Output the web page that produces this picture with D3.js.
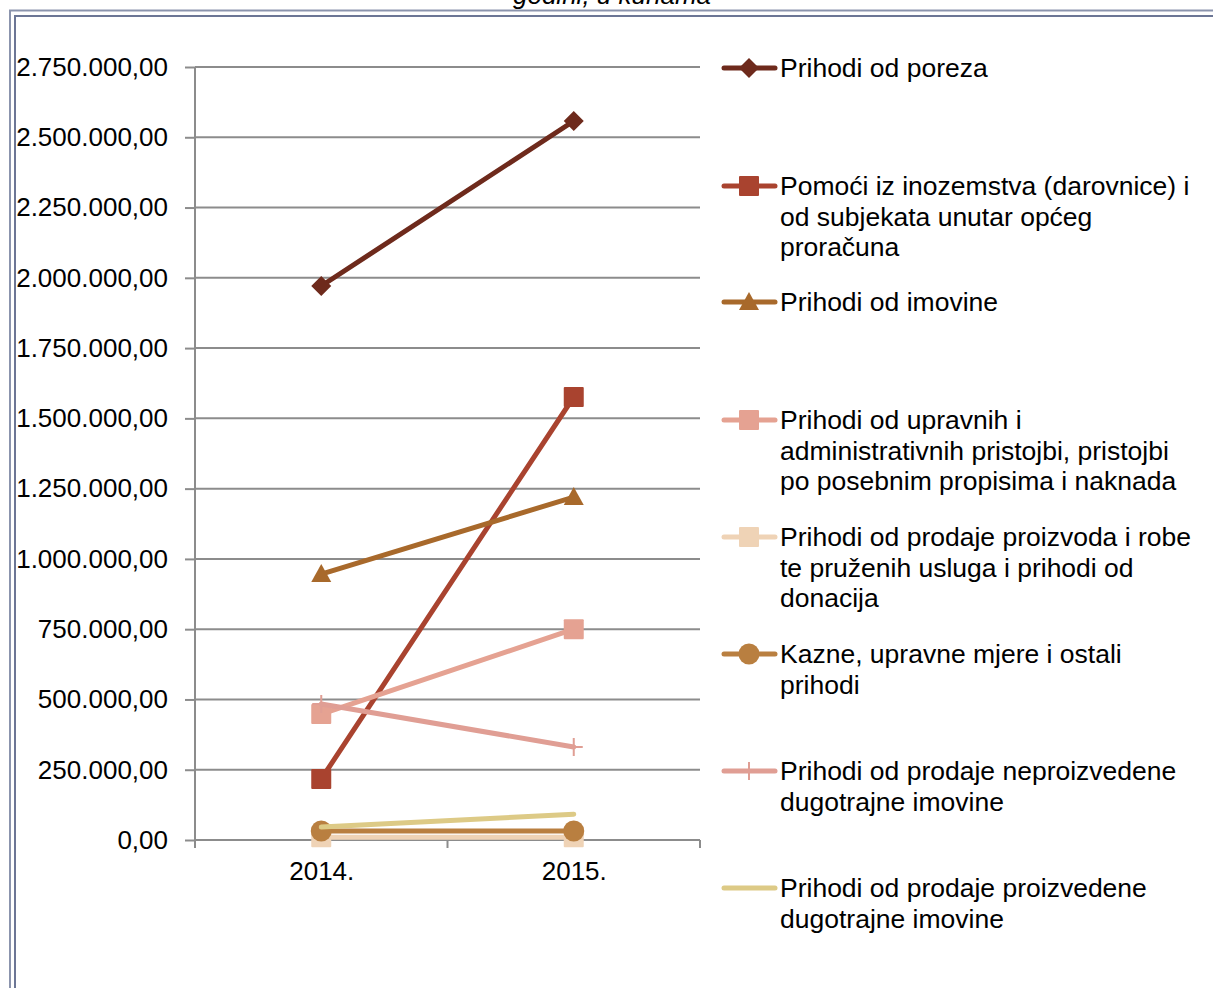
<!DOCTYPE html>
<html>
<head>
<meta charset="utf-8">
<script src="https://cdn.jsdelivr.net/npm/d3@7"></script>
<style>
  body { margin: 0; background: #fff; overflow: hidden; }
  svg { display: block; font-family: "Liberation Sans", Arial, sans-serif; }
</style>
</head>
<body>
<div id="chart"></div>
<script>
// data
const years = ["2014.", "2015."]
const yTicks = [0, 250000, 500000, 750000, 1000000, 1250000, 1500000, 1750000, 2000000, 2250000, 2500000, 2750000]

const porez = [1971000, 2558000]
const pomoci = [217000, 1576000]
const imovina = [946000, 1220000]
const pristojbe = [448000, 750000]
const proizvodi = [10000, 10000]
const kazne = [32000, 32000]
const neproizvedena = [484000, 331000]
const proizvedena = [46000, 92000]

const seriesNames = [
    ["Prihodi od poreza"],
    ["Pomoći iz inozemstva (darovnice) i", "od subjekata unutar općeg", "proračuna"],
    ["Prihodi od imovine"],
    ["Prihodi od upravnih i", "administrativnih pristojbi, pristojbi", "po posebnim propisima i naknada"],
    ["Prihodi od prodaje proizvoda i robe", "te pruženih usluga i prihodi od", "donacija"],
    ["Kazne, upravne mjere i ostali", "prihodi"],
    ["Prihodi od prodaje neproizvedene", "dugotrajne imovine"],
    ["Prihodi od prodaje proizvedene", "dugotrajne imovine"]
]
const seriesValues = [porez, pomoci, imovina, pristojbe, proizvodi, kazne, neproizvedena, proizvedena]
const seriesColors = ["#6e2a1c", "#a9432f", "#a8692b", "#e5a292", "#efd3b6", "#b97f40", "#e09e94", "#ddca86"]
const seriesMarkers = ["diamond", "square", "triangle", "square", "square", "circle", "plus", "none"]

const width = 1213, height = 988
const svg = d3.select('#chart').append('svg')
    .attr('width', width)
    .attr('height', height)

// frame (double border, runs off the picture)
svg.append('rect')
    .attr('x', 10).attr('y', 10.5)
    .attr('width', 1300).attr('height', 1100)
    .style('fill', 'none').style('stroke', '#8b94ad').style('stroke-width', 2)
svg.append('rect')
    .attr('x', 15).attr('y', 16)
    .attr('width', 1300).attr('height', 1100)
    .style('fill', 'none').style('stroke', '#6c7695').style('stroke-width', 2)

// title, cut at the top
svg.append('text')
    .attr('x', 612).attr('y', 4)
    .attr('text-anchor', 'middle')
    .style('font-size', '26px')
    .style('font-style', 'italic')
    .text('godini, u kunama')

/*
 * scales
 */
const xScale = d3.scalePoint()
    .domain(years)
    .range([195, 700])
    .padding(0.5)

const yScale = d3.scaleLinear()
    .domain([0, 2750000])
    .range([840, 67])

const hr = d3.formatLocale({decimal: ",", thousands: ".", grouping: [3], currency: ["", ""]})
const fmt = hr.format(",.2f")

// gridlines
svg.append('g')
    .selectAll('line')
    .data(yTicks.slice(1))
    .join('line')
    .attr('x1', 195).attr('x2', 700)
    .attr('y1', d => yScale(d)).attr('y2', d => yScale(d))
    .style('stroke', '#8c8c8c')
    .style('stroke-width', 2)

/*
 * axes
 */
const yAxis = d3.axisLeft(yScale)
    .tickValues(yTicks)
    .tickFormat(fmt)
    .tickSize(10)
    .tickPadding(17)

const gy = svg.append('g')
    .attr('class', 'y axis')
    .attr('transform', 'translate(195,0)')
    .call(yAxis)

const xAxis = d3.axisBottom(xScale)
    .tickSize(0)
    .tickPadding(22)

const gx = svg.append('g')
    .attr('class', 'x axis')
    .attr('transform', 'translate(0,840)')
    .call(xAxis)

// x tick marks sit between the categories
const step = xScale.step()
gx.selectAll('.sep')
    .data([0, 1, 2])
    .join('line')
    .attr('class', 'sep')
    .attr('x1', d => 195 + d * step).attr('x2', d => 195 + d * step)
    .attr('y1', 0).attr('y2', 8)

svg.selectAll('.axis path').style('stroke', '#8c8c8c').style('stroke-width', 2)
svg.selectAll('.axis line').style('stroke', '#8c8c8c').style('stroke-width', 2)
svg.selectAll('.axis text')
    .style('font-size', '26px')
    .style('font-family', '"Liberation Sans", Arial, sans-serif')
    .style('fill', '#000')
gx.select('.domain').attr('d', 'M195,0H700')
gy.select('.domain').attr('d', 'M0,840V67')

/*
 * markers
 */
function drawMarker(g, type, color, x, y) {
    if (type === 'diamond') {
        g.append('path')
            .attr('d', `M${x},${y - 10}L${x + 10},${y}L${x},${y + 10}L${x - 10},${y}Z`)
            .style('fill', color)
    } else if (type === 'square') {
        g.append('rect')
            .attr('x', x - 10).attr('y', y - 10)
            .attr('width', 20).attr('height', 20)
            .attr('rx', 1)
            .style('fill', color)
    } else if (type === 'triangle') {
        g.append('path')
            .attr('d', `M${x},${y - 10}L${x + 10},${y + 8}L${x - 10},${y + 8}Z`)
            .style('fill', color)
    } else if (type === 'circle') {
        g.append('circle')
            .attr('cx', x).attr('cy', y).attr('r', 10.5)
            .style('fill', color)
    } else if (type === 'plus') {
        g.append('path')
            .attr('d', `M${x - 9},${y}H${x + 9}M${x},${y - 9}V${y + 9}`)
            .style('stroke', color)
            .style('stroke-width', 2)
    }
}

/*
 * lines
 */
const line = d3.line()
    .x((d, i) => xScale(years[i]))
    .y(d => yScale(d))

for (let i = 0; i < seriesValues.length; i++) {
    const g = svg.append('g').attr('class', 'series')
    g.append('path')
        .datum(seriesValues[i])
        .attr('d', line)
        .style('fill', 'none')
        .style('stroke', seriesColors[i])
        .style('stroke-width', 5)
        .style('stroke-linecap', 'round')
        .style('stroke-linejoin', 'round')
    seriesValues[i].forEach((v, j) => {
        drawMarker(g, seriesMarkers[i], seriesColors[i], xScale(years[j]), yScale(v))
    })
}

/*
 * legend
 */
const legendY = [68, 186, 302, 420, 537, 654, 771, 888]
const legend = svg.append('g').attr('class', 'legend')
for (let i = 0; i < seriesNames.length; i++) {
    const y = legendY[i]
    legend.append('line')
        .attr('x1', 724).attr('x2', 775)
        .attr('y1', y).attr('y2', y)
        .style('stroke', seriesColors[i])
        .style('stroke-width', 5)
        .style('stroke-linecap', 'round')
    drawMarker(legend, seriesMarkers[i], seriesColors[i], 749, y)
    const t = legend.append('text')
        .attr('x', 780)
        .attr('y', y + 9)
        .style('font-size', '26.5px')
    seriesNames[i].forEach((s, k) => {
        t.append('tspan')
            .attr('x', 780)
            .attr('dy', k === 0 ? 0 : 30.5)
            .text(s)
    })
}
</script>
</body>
</html>
